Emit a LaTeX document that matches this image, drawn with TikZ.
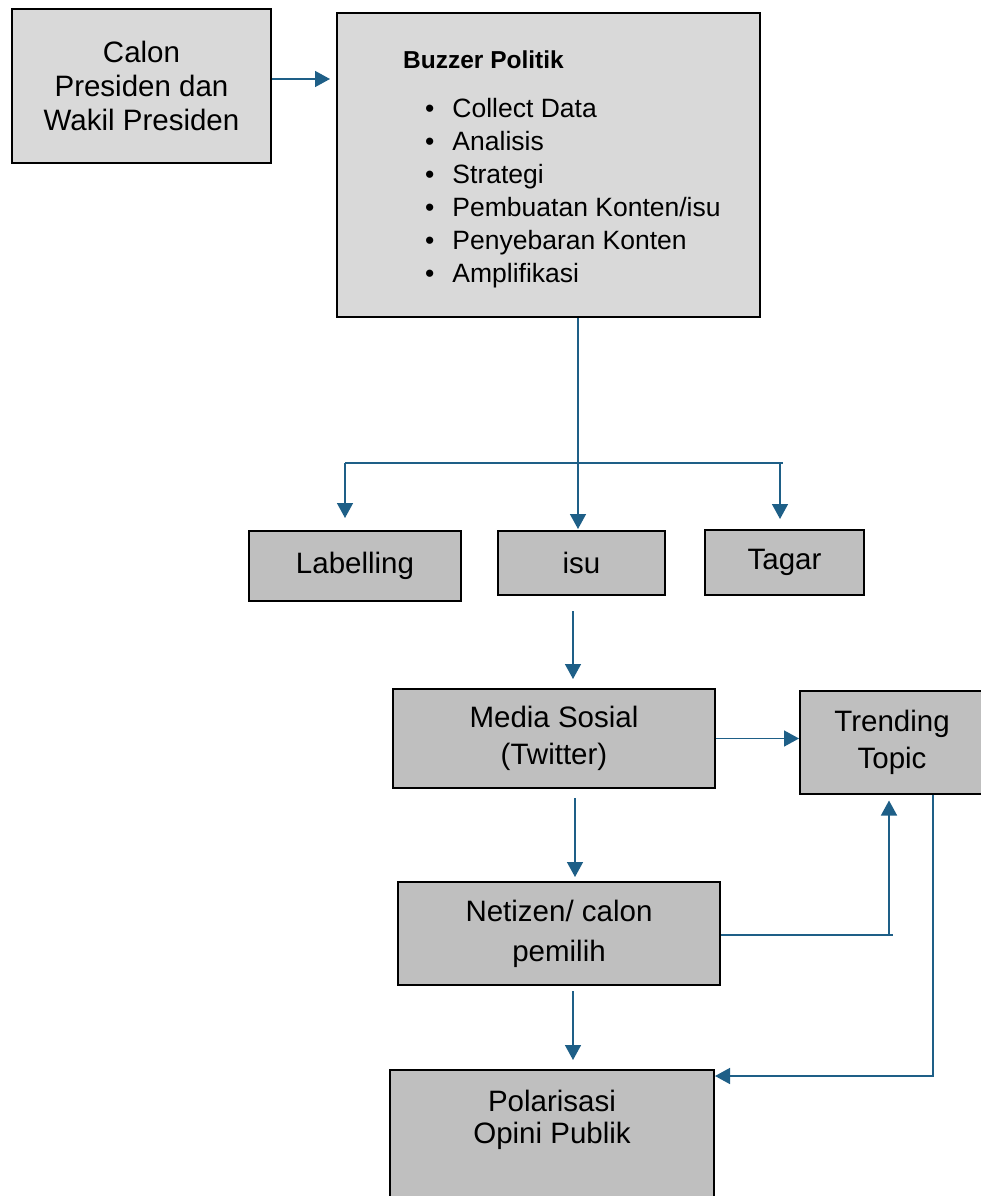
\documentclass[tikz,border=0pt]{standalone}
\usepackage{fontspec}
\setmainfont{Liberation Sans}
\usetikzlibrary{arrows.meta,calc}
\definecolor{garisbiru}{RGB}{30,95,135}
\definecolor{abumuda}{RGB}{217,217,217}
\definecolor{abutua}{RGB}{191,191,191}
\tikzset{
  kotak/.style={draw=black, line width=2pt, fill=abutua, align=center, inner sep=0pt, font=\fontsize{29.5pt}{34pt}\selectfont},
  kotakmuda/.style={kotak, fill=abumuda},
  panah/.style={draw=garisbiru, line width=1.5pt, -{Triangle[length=15pt,width=16pt]}},
  garis/.style={draw=garisbiru, line width=1.5pt}
}
\begin{document}
\begin{tikzpicture}[x=1pt,y=-1pt]
\useasboundingbox (0,0) rectangle (981,1196);
% kotak atas
\node[kotakmuda, minimum width=259pt, minimum height=153pt] (calon) at (141.5,86) {Calon\\Presiden dan\\Wakil Presiden};
\node[kotakmuda, minimum width=423pt, minimum height=304pt] (buzzer) at (548.5,165) {};
\node[anchor=north west, inner sep=0pt, font=\fontsize{26.5pt}{33pt}\selectfont] (tugas) at (403,45)
  {\begin{tabular}{@{\hspace{22pt}}c@{\hspace{18pt}}l@{}}
   \multicolumn{2}{@{}l}{\fontsize{24.5pt}{33pt}\selectfont\textbf{Buzzer Politik}}\\[16pt]
   \textbullet & Collect Data\\
   \textbullet & Analisis\\
   \textbullet & Strategi\\
   \textbullet & Pembuatan Konten/isu\\
   \textbullet & Penyebaran Konten\\
   \textbullet & Amplifikasi
   \end{tabular}};
% cabang
\node[kotak, minimum width=212pt, minimum height=70pt] (labelling) at (355,566) {Labelling};
\node[kotak, minimum width=167pt, minimum height=64pt] (isu) at (581.5,563) {isu};
\node[kotak, minimum width=159pt, minimum height=65pt] (tagar) at (784.5,562.5) {Tagar};
% alur bawah
\node[kotak, minimum width=322pt, minimum height=99pt, font=\fontsize{29.5pt}{37pt}\selectfont] (media) at (554,738.5) {Media Sosial\\(Twitter)};
\node[kotak, minimum width=184pt, minimum height=103pt, font=\fontsize{29.5pt}{37pt}\selectfont] (trending) at (892,742) {Trending\\Topic};
\node[kotak, minimum width=322pt, minimum height=103pt, font=\fontsize{29.5pt}{40pt}\selectfont] (netizen) at (559,933.5) {Netizen/ calon\\pemilih};
\node[kotak, minimum width=324pt, minimum height=150pt, anchor=north,
  label={[anchor=north, align=center, inner sep=0pt, yshift=-21pt, font=\fontsize{29.5pt}{32pt}\selectfont]north:Polarisasi\\Opini Publik}] (polar) at (552,1069) {};
% titik bantu
\coordinate (masuk) at (330,79);
\coordinate (tengah) at (578,463);
\coordinate (kiri) at (345,463);
\coordinate (kanan) at (780,463);
\coordinate (spine) at (573,0);
\coordinate (belok) at (889,935);
\coordinate (turun) at (933,1076);
% panah
\draw[panah] (calon.east |- masuk) -- (masuk);
\draw[panah] (buzzer.south -| tengah) -- ($(isu.north -| tengah)+(0,-1)$);
\draw[garis] (kiri) -- ([xshift=3pt]kanan);
\draw[panah] (kiri) -- ($(labelling.north -| kiri)+(0,-12)$);
\draw[panah] (kanan) -- ($(tagar.north -| kanan)+(0,-10)$);
\draw[panah] ($(isu.south -| spine)+(0,15)$) -- ($(media.north -| spine)+(0,-9)$);
\draw[panah] (media.east) -- (trending.west |- media.east);
\draw[panah] ($(media.south -| spine)+(2,9)$) -- ($(netizen.north -| spine)+(2,-4)$);
\draw[garis] (netizen.east |- belok) -- ([xshift=4pt]belok);
\draw[panah] (belok) -- ($(trending.south -| belok)+(0,6)$);
\draw[panah] (trending.south -| turun) -- (turun) -- (polar.east |- turun);
\draw[panah] ($(netizen.south -| spine)+(0,5)$) -- ($(polar.north -| spine)+(0,-9)$);
\end{tikzpicture}
\end{document}
